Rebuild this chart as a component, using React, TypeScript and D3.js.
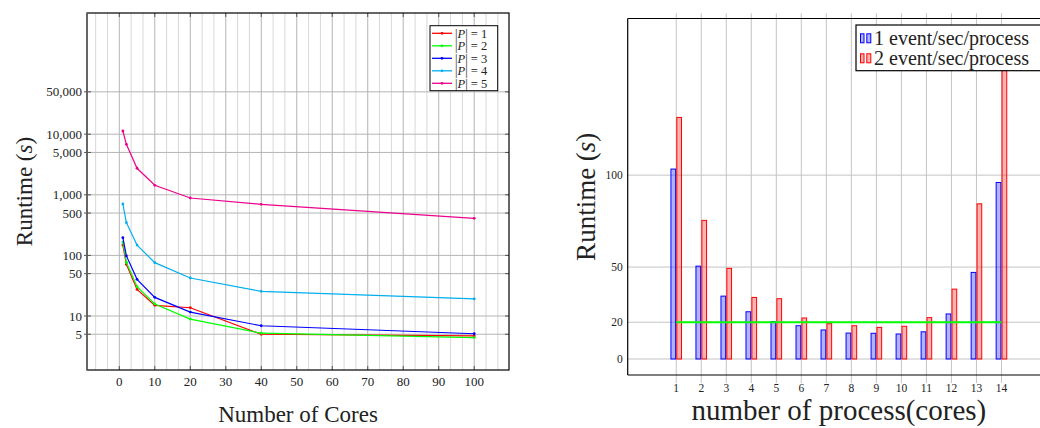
import React from "react";
import * as d3 from "d3";

// ---------- Left chart data ----------
const coresX = [1, 2, 5, 10, 20, 40, 100];
const runtimeP1 = [148, 71, 27.5, 15, 13.7, 5.0, 4.7];
const runtimeP2 = [166, 77, 30.5, 15.8, 8.9, 5.2, 4.4];
const runtimeP3 = [196, 98, 40.3, 20.3, 11.6, 6.9, 5.1];
const runtimeP4 = [705, 347, 148, 76, 42.4, 25.5, 19.1];
const runtimeP5 = [11300, 6810, 2740, 1435, 885, 697, 409];
const seriesIndex = ["1", "2", "3", "4", "5"];
const seriesColors = ["#ff0000", "#00ff00", "#0000ff", "#00aeef", "#ec008c"];
const leftYTicks = [5, 10, 50, 100, 500, 1000, 5000, 10000, 50000];
const leftXTicks = [0, 10, 20, 30, 40, 50, 60, 70, 80, 90, 100];

// ---------- Right chart data ----------
const processes = [1, 2, 3, 4, 5, 6, 7, 8, 9, 10, 11, 12, 13, 14];
const rate1Runtime = [103.3, 50.5, 34.2, 25.7, 20.3, 18.1, 15.8, 14.1, 14.0, 13.6, 14.8, 24.5, 47.1, 96.0];
const rate2Runtime = [131.4, 75.4, 49.3, 33.5, 32.8, 22.3, 19.2, 18.1, 17.2, 17.8, 22.5, 38.0, 84.4, 165];
const targetRuntime = 20;
const rightYTicks = [0, 20, 50, 100];
const rightLegend = ["1 event/sec/process", "2 event/sec/process"];

const FONT = "'Liberation Serif', 'DejaVu Serif', serif";

function LeftChart() {
  const L = 87, R = 509, T = 13, B = 370;
  const x = d3.scaleLinear().domain([-9.1, 109.8]).range([L, R]);
  const y = d3.scaleLog().domain([Math.pow(10, 0.109), 1e6]).range([B, T]);
  const series = [runtimeP1, runtimeP2, runtimeP3, runtimeP4, runtimeP5];
  const line = d3
    .line<number>()
    .x((_, i) => x(coresX[i]))
    .y((d) => y(d));
  const minor: number[] = [];
  for (let k = -2; k <= 32; k++) {
    if (k % 3 !== 0) minor.push((k * 10) / 3);
  }
  return (
    <g fontFamily={FONT}>
      <rect x={L} y={T} width={R - L} height={B - T} fill="#fff" />
      {minor.map((v) => (
        <line key={"mi" + v} x1={x(v)} x2={x(v)} y1={T} y2={B} stroke="#d8d8d8" strokeWidth={1} />
      ))}
      {leftXTicks.map((v) => (
        <line key={"ma" + v} x1={x(v)} x2={x(v)} y1={T} y2={B} stroke="#b4b4b4" strokeWidth={1} />
      ))}
      {leftYTicks.map((v) => (
        <line key={"hy" + v} x1={L} x2={R} y1={y(v)} y2={y(v)} stroke="#b4b4b4" strokeWidth={1} />
      ))}
      {leftYTicks.map((v) => (
        <g key={"yt" + v}>
          <line x1={L - 3} x2={L + 4} y1={y(v)} y2={y(v)} stroke="#555" strokeWidth={1} />
          <line x1={R - 4} x2={R} y1={y(v)} y2={y(v)} stroke="#555" strokeWidth={1} />
          <text x={L - 5} y={y(v)} dy="0.35em" textAnchor="end" fontSize={13} fill="#222">
            {d3.format(",")(v)}
          </text>
        </g>
      ))}
      {leftXTicks.map((v) => (
        <g key={"xt" + v}>
          <line x1={x(v)} x2={x(v)} y1={B - 4} y2={B} stroke="#555" strokeWidth={1} />
          <line x1={x(v)} x2={x(v)} y1={T} y2={T + 4} stroke="#555" strokeWidth={1} />
          <text x={x(v)} y={386} textAnchor="middle" fontSize={13} fill="#222">
            {v}
          </text>
        </g>
      ))}
      {series.map((s, si) => (
        <g key={"s" + si}>
          <path d={line(s) || ""} fill="none" stroke={seriesColors[si]} strokeWidth={1.2} />
          {s.map((d, i) => (
            <circle key={i} cx={x(coresX[i])} cy={y(d)} r={1.4} fill={seriesColors[si]} />
          ))}
        </g>
      ))}
      <rect x={L} y={T} width={R - L} height={B - T} fill="none" stroke="#000" strokeWidth={1.2} />
      <line x1={L} x2={L} y1={T} y2={B} stroke="#666" strokeWidth={1.6} />
      <g>
        <rect x={430} y={25.7} width={67.7} height={65} fill="#fff" stroke="#000" strokeWidth={1} />
        {seriesIndex.map((lab, i) => {
          const cy = 33.3 + i * 12.5;
          return (
            <g key={"lg" + i}>
              <line x1={432} x2={452} y1={cy} y2={cy} stroke={seriesColors[i]} strokeWidth={1.3} />
              <circle cx={442} cy={cy} r={1.4} fill={seriesColors[i]} />
              <text x={455} y={cy} dy="0.35em" fontSize={12.5} fill="#222">
                |<tspan fontStyle="italic">P</tspan>| = {lab}
              </text>
            </g>
          );
        })}
      </g>
      <text x={(L + R) / 2} y={422} textAnchor="middle" fontSize={23} fill="#222">
        Number of Cores
      </text>
      <text transform={`translate(32,${(T + B) / 2}) rotate(-90)`} textAnchor="middle" fontSize={23} fill="#222">
        Runtime (<tspan fontStyle="italic">s</tspan>)
      </text>
    </g>
  );
}

function RightChart() {
  const L = 627.7, R = 1050, T = 18.5, B = 375;
  const x = d3.scaleLinear().domain([-0.94, 15.94]).range([L, R]);
  const y = d3.scaleLinear().domain([-8.7, 185.2]).range([B, T]);
  const bw = 4.7;
  const gap = 0.6;
  return (
    <g fontFamily={FONT}>
      {processes.map((p) => (
        <g key={"vx" + p}>
          <line x1={x(p)} x2={x(p)} y1={13.3} y2={383} stroke="#c4c4c4" strokeWidth={1} />
          <text x={x(p)} y={392} textAnchor="middle" fontSize={11.5} fill="#222">
            {p}
          </text>
        </g>
      ))}
      {rightYTicks.map((v) => (
        <g key={"hy" + v}>
          <line x1={L} x2={1040} y1={y(v)} y2={y(v)} stroke="#c4c4c4" strokeWidth={1} />
          <text x={L - 5} y={y(v)} dy="0.35em" textAnchor="end" fontSize={11.5} fill="#222">
            {v}
          </text>
        </g>
      ))}
      {processes.map((p, i) => (
        <g key={"b" + p}>
          <rect
            x={x(p) - gap - bw}
            y={y(rate1Runtime[i])}
            width={bw}
            height={y(0) - y(rate1Runtime[i])}
            fill="rgba(0,0,255,0.3)"
            stroke="#0000ff"
            strokeWidth={1}
          />
          <rect
            x={x(p) + gap}
            y={y(rate2Runtime[i])}
            width={bw}
            height={y(0) - y(rate2Runtime[i])}
            fill="rgba(255,0,0,0.3)"
            stroke="#ff0000"
            strokeWidth={1}
          />
        </g>
      ))}
      <line
        x1={x(processes[0])}
        x2={x(processes[processes.length - 1])}
        y1={y(targetRuntime)}
        y2={y(targetRuntime)}
        stroke="#00ff00"
        strokeWidth={2}
      />
      <line x1={L} x2={1040} y1={T} y2={T} stroke="#000" strokeWidth={1.2} />
      <line x1={L} x2={1040} y1={B} y2={B} stroke="#000" strokeWidth={1.2} />
      <line x1={L} x2={L} y1={T} y2={B} stroke="#000" strokeWidth={1.2} />
      <rect x={856} y={25} width={200} height={45.7} fill="#fff" stroke="#000" strokeWidth={1.2} />
      {rightLegend.map((lab, i) => {
        const cy = 38.3 + i * 20;
        const fill = i === 0 ? "rgba(0,0,255,0.3)" : "rgba(255,0,0,0.3)";
        const stroke = i === 0 ? "#0000ff" : "#ff0000";
        return (
          <g key={"rl" + i}>
            <rect x={860.5} y={cy - 4.5} width={3.5} height={9} fill={fill} stroke={stroke} strokeWidth={1} />
            <rect x={866.8} y={cy - 4.5} width={4} height={9} fill={fill} stroke={stroke} strokeWidth={1} />
            <text x={874} y={cy} dy="0.35em" fontSize={20} fill="#222">
              {lab}
            </text>
          </g>
        );
      })}
      <text x={(L + R) / 2} y={420} textAnchor="middle" fontSize={29} fill="#222">
        number of process(cores)
      </text>
      <text transform={`translate(595,${(T + B) / 2}) rotate(-90)`} textAnchor="middle" fontSize={27} fill="#222">
        Runtime (<tspan fontStyle="italic">s</tspan>)
      </text>
    </g>
  );
}

export default function App() {
  return (
    <svg
      width={1040}
      height={428}
      style={{ position: "absolute", left: 0, top: 0, background: "#fff" }}
    >
      <rect width={1040} height={428} fill="#fff" />
      <LeftChart />
      <RightChart />
    </svg>
  );
}
